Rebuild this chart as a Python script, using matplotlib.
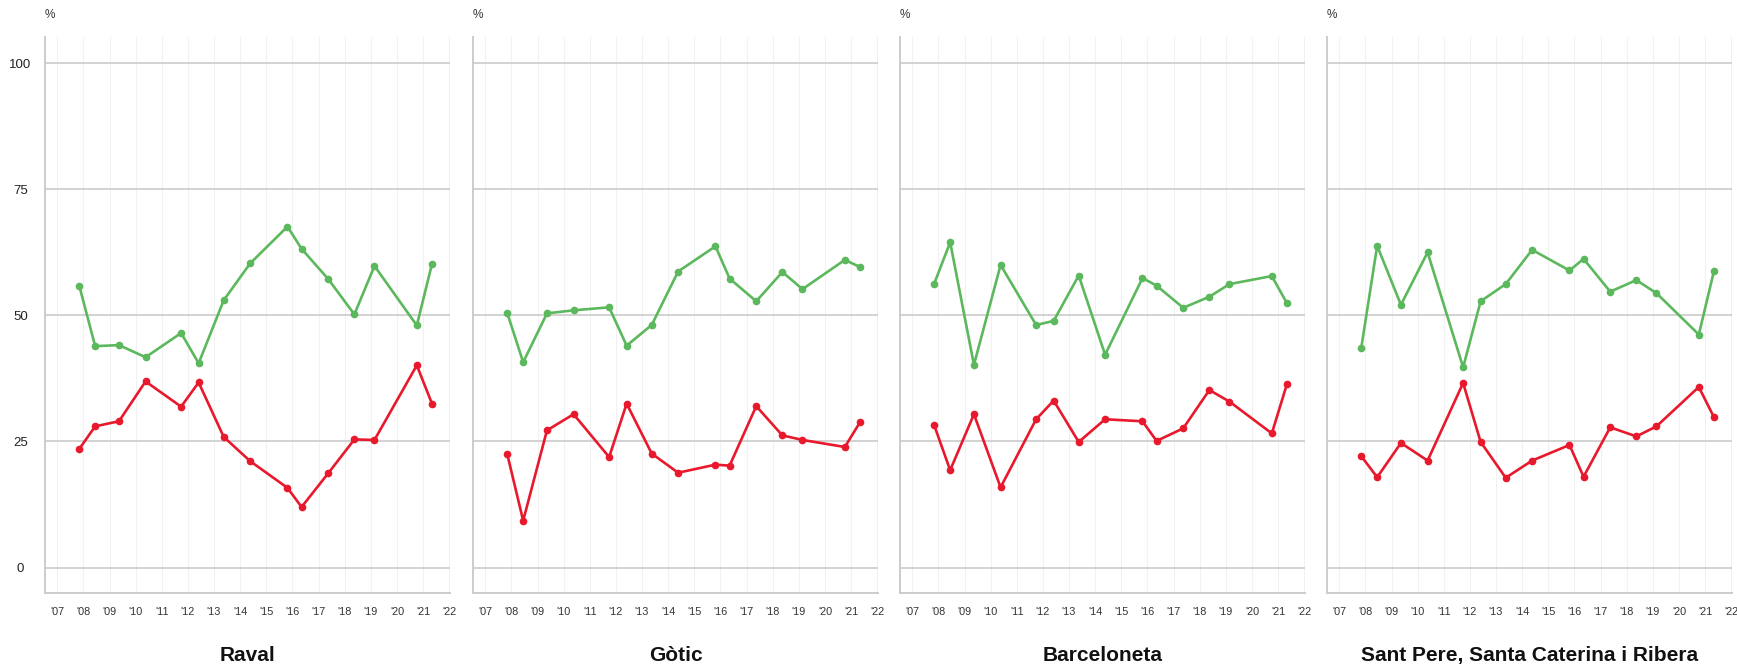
import numpy as np
import matplotlib
matplotlib.use('Agg')
import matplotlib.pyplot as plt
from matplotlib.transforms import ScaledTranslation

plt.rcParams['font.family'] = ['Liberation Sans', 'DejaVu Sans']

# survey dates (decimal years), shared by all districts
survey_dates = [2007.84, 2008.45, 2009.36, 2010.38, 2011.74, 2012.41, 2013.37, 2014.38,
                2015.81, 2016.35, 2017.37, 2018.37, 2019.14, 2020.76, 2021.34]

districts = ['Raval', 'Gòtic', 'Barceloneta', 'Sant Pere, Santa Caterina i Ribera']

# green series
raval_green = [55.9, 43.9, 44.1, 41.7, 46.5, 40.5, 53.0, 60.3, 67.6, 63.2, 57.2, 50.2, 59.8, 48.0, 60.2]
gotic_green = [50.5, 40.7, 50.4, 51.0, 51.6, 44.0, 48.1, 58.7, 63.7, 57.3, 52.8, 58.6, 55.2, 61.0, 59.6]
barceloneta_green = [56.3, 64.5, 40.2, 60.0, 48.1, 48.9, 57.9, 42.2, 57.4, 55.9, 51.5, 53.7, 56.2, 57.8, 52.4]
santpere_green = [43.5, 63.8, 52.1, 62.5, 39.7, 52.8, 56.2, 63.0, 58.9, 61.2, 54.7, 57.0, 54.4, 46.2, 58.8]

# red series
raval_red = [23.5, 28.0, 29.0, 36.9, 31.9, 36.7, 25.9, 21.1, 15.8, 12.0, 18.7, 25.4, 25.3, 40.1, 32.5]
gotic_red = [22.5, 9.3, 27.2, 30.4, 21.9, 32.5, 22.6, 18.8, 20.4, 20.2, 32.0, 26.2, 25.3, 23.9, 28.8]
barceloneta_red = [28.2, 19.3, 30.4, 15.9, 29.4, 33.1, 24.9, 29.4, 29.0, 25.1, 27.6, 35.2, 32.9, 26.6, 36.4]
santpere_red = [22.1, 17.9, 24.7, 21.2, 36.6, 24.9, 17.8, 21.2, 24.3, 18.0, 27.8, 26.0, 28.0, 35.8, 29.8]

green_series = [raval_green, gotic_green, barceloneta_green, santpere_green]
red_series = [raval_red, gotic_red, barceloneta_red, santpere_red]

years = list(range(2007, 2023))
year_labels = ["'%02d" % (y % 100) for y in years]
y_ticks = [0, 25, 50, 75, 100]

GREEN = '#5cb85c'
RED = '#e8192c'

W, H = 1737, 665
fig = plt.figure(figsize=(W / 100, H / 100), dpi=100)

lefts = [45, 473, 900, 1327]
ax_w = 405
ax_top, ax_bot = 37, 593

for i, name in enumerate(districts):
    ax = fig.add_axes([lefts[i] / W, (H - ax_bot) / H, ax_w / W, (ax_bot - ax_top) / H])
    ax.set_xlim(2006.53, 2022.03)
    ax.set_ylim(-5.05, 105.2)

    # grid
    for y in years:
        ax.axvline(y, color='#f1f1f1', lw=0.8, zorder=0)
    for v in y_ticks:
        ax.axhline(v, color='#d2d2d2', lw=1.4, zorder=1)

    ax.plot(survey_dates, green_series[i], color=GREEN, lw=1.9, marker='o', ms=4.5, zorder=3)
    ax.plot(survey_dates, red_series[i], color=RED, lw=1.9, marker='o', ms=4.5, zorder=3)

    for s in ['top', 'right']:
        ax.spines[s].set_visible(False)
    for s in ['left', 'bottom']:
        ax.spines[s].set_color('#cccccc')
        ax.spines[s].set_linewidth(1.4)

    ax.set_xticks(years)
    ax.set_xticklabels(year_labels, fontsize=7.8, color='#333333')
    ax.tick_params(axis='x', length=0, pad=10)
    ax.set_yticks(y_ticks)
    if i == 0:
        ax.set_yticklabels([str(v) for v in y_ticks], fontsize=9.5, color='#222222', ha='center')
        for lab in ax.get_yticklabels():
            lab.set_transform(lab.get_transform() + ScaledTranslation(0, -6 / 100, fig.dpi_scale_trans))
    else:
        ax.set_yticklabels([])
    ax.tick_params(axis='y', length=0, pad=17.6)

    ax.text(5 / ax_w, 1 + 22 / (ax_bot - ax_top), '%', transform=ax.transAxes,
            fontsize=8.5, color='#333333', ha='center', va='center')

    fig.text((lefts[i] + ax_w / 2) / W, (H - 661) / H, name, ha='center', va='baseline',
             fontsize=15, fontweight='bold', color='#111111')

fig.savefig('out.png', dpi=100, facecolor='white')
